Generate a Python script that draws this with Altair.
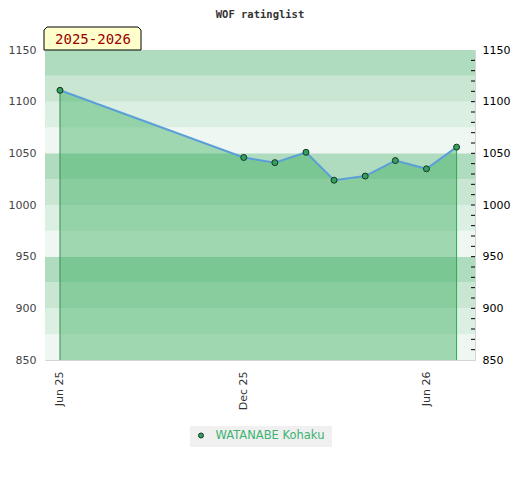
import altair as alt
import pandas as pd

# ---- data ----
dates = ["2025-06-01T00:00", "2025-12-01T00:00", "2026-01-01T00:00", "2026-02-01T00:00",
         "2026-03-01T00:00", "2026-04-01T00:00", "2026-05-01T00:00", "2026-06-01T00:00",
         "2026-07-01T00:00"]
ratings = [1111, 1046, 1041, 1051, 1024, 1028, 1043, 1035, 1056]
player = "WATANABE Kohaku"
season = "2025-2026"
title_text = "WOF ratinglist"

band_lo = [850, 875, 900, 925, 950, 975, 1000, 1025, 1050, 1075, 1100, 1125]
band_hi = [875, 900, 925, 950, 975, 1000, 1025, 1050, 1075, 1100, 1125, 1150]
band_colors = ["#eef7f2", "#dcefe3", "#c8e6d2", "#afdbbe"] * 3

minor_ticks = [860, 870, 880, 890, 900, 910, 920, 930, 940, 950, 960, 970, 980, 990, 1000,
               1010, 1020, 1030, 1040, 1050, 1060, 1070, 1080, 1090, 1100, 1110, 1120, 1130, 1140]
label_values = [850, 900, 950, 1000, 1050, 1100, 1150]

edge_dates = [dates[0], dates[-1]]
edge_ratings = [ratings[0], ratings[-1]]
edge_colors = ["#3b8c55", "#2faa55"]

W, H = 430, 310
BASE = 850

df = pd.DataFrame({"date": dates, "rating": ratings, "player": player})
bands = pd.DataFrame({"lo": band_lo, "hi": band_hi, "c": band_colors})
ticks = pd.DataFrame({"v": minor_ticks})
edges = pd.DataFrame({"date": edge_dates, "rating": edge_ratings, "c": edge_colors})

yscale = alt.Scale(domain=[850, 1150], nice=False, zero=False)
xscale = alt.Scale(domain=[alt.DateTime(year=2025, month=5, date=17, hours=2),
                           alt.DateTime(year=2026, month=7, date=19, hours=8)])

xaxis = alt.Axis(
    values=[alt.DateTime(year=2025, month=6, date=1),
            alt.DateTime(year=2025, month=12, date=1),
            alt.DateTime(year=2026, month=6, date=1)],
    format="%b %y", labelAngle=270, ticks=False, domain=False, grid=False,
    labelPadding=11, labelColor="#333333", labelFontSize=11, labelFont="DejaVu Sans", title=None)

X = alt.X("date:T", scale=xscale, axis=xaxis)

band_layer = alt.Chart(bands).mark_rect().encode(
    x=alt.value(0), x2=alt.value(W),
    y=alt.Y("lo:Q", scale=yscale,
            axis=alt.Axis(values=label_values, format="d", ticks=False, domain=False, grid=False,
                          labelPadding=9, labelColor="#444444", labelFontSize=11,
                          labelFont="DejaVu Sans", title=None)),
    y2="hi:Q",
    color=alt.Color("c:N", scale=None),
)

area = alt.Chart(df).mark_area(color="#3cb060", opacity=0.45).encode(
    x=X,
    y=alt.Y("rating:Q", scale=yscale, axis=None),
    y2=alt.datum(BASE),
)

edge_rules = alt.Chart(edges).mark_rule(strokeWidth=1).encode(
    x=X,
    y=alt.Y("rating:Q", scale=yscale, axis=None),
    y2=alt.datum(BASE),
    color=alt.Color("c:N", scale=None),
)

line = alt.Chart(df).mark_line(color="#5b9fd8", strokeWidth=2).encode(
    x=X,
    y=alt.Y("rating:Q", scale=yscale, axis=None),
)

points = alt.Chart(df).mark_point(shape="circle", filled=True, size=36, fill="#33a060",
                                  stroke="#17361f", strokeWidth=1, opacity=1).encode(
    x=X,
    y=alt.Y("rating:Q", scale=yscale, axis=None),
)

tick_layer = alt.Chart(ticks).mark_rule(color="#000000", strokeWidth=1).encode(
    x=alt.value(W - 4), x2=alt.value(W),
    y=alt.Y("v:Q", scale=yscale,
            axis=alt.Axis(orient="right", values=label_values, format="d", ticks=False,
                          domain=False, grid=False, labelPadding=7, labelColor="#000000",
                          labelFontSize=11, labelFont="DejaVu Sans", title=None)),
)

# title and season badge
title_layer = alt.Chart(pd.DataFrame({"t": [title_text]})).mark_text(
    font="DejaVu Sans Mono", fontSize=10.5, fontWeight="bold", color="#333333",
    align="center", baseline="middle").encode(
    x=alt.value(W / 2), y=alt.value(-35.5), text="t:N")

# badge with chamfered top corners (custom symbol, 97 x 23 px)
badge_shape = ("M-1,0.237 L-1,-0.175 L-0.938,-0.237 L0.938,-0.237 "
               "L1,-0.175 L1,0.237 Z")
badge_box = alt.Chart(pd.DataFrame({"t": [season]})).mark_point(
    shape=badge_shape, size=97 * 97, filled=True, fill="#ffffcc", stroke="#000000",
    strokeWidth=1, opacity=1).encode(
    x=alt.value(47.5), y=alt.value(-11.5))

badge_text = alt.Chart(pd.DataFrame({"t": [season]})).mark_text(
    font="DejaVu Sans Mono", fontSize=14, color="#990000",
    align="center", baseline="middle").encode(
    x=alt.value(48), y=alt.value(-10), text="t:N")

# legend
leg_box = alt.Chart(pd.DataFrame({"t": [player]})).mark_rect(fill="#f0f0f0").encode(
    x=alt.value(145), x2=alt.value(287), y=alt.value(376), y2=alt.value(397))

leg_dot = alt.Chart(pd.DataFrame({"t": [player]})).mark_point(
    shape="circle", filled=True, size=25, fill="#33a060", stroke="#17361f",
    strokeWidth=1, opacity=1).encode(x=alt.value(156), y=alt.value(385.5))

leg_text = alt.Chart(pd.DataFrame({"t": [player]})).mark_text(
    font="DejaVu Sans", fontSize=11.5, color="#3cb371", align="left",
    baseline="middle").encode(x=alt.value(170.5), y=alt.value(386), text="t:N")

chart = alt.layer(
    band_layer, area, edge_rules, line, points, tick_layer,
    title_layer, badge_box, badge_text, leg_box, leg_dot, leg_text
).resolve_axis(y="independent").properties(
    width=W, height=H,
    autosize=alt.AutoSizeParams(type="none"),
    padding={"left": 37, "top": 42, "right": 37, "bottom": 112},
    background="#ffffff",
).configure_view(stroke="#d4d4d4", strokeWidth=1)

chart.save("out.html", embed_options={"renderer": "svg", "actions": False})
